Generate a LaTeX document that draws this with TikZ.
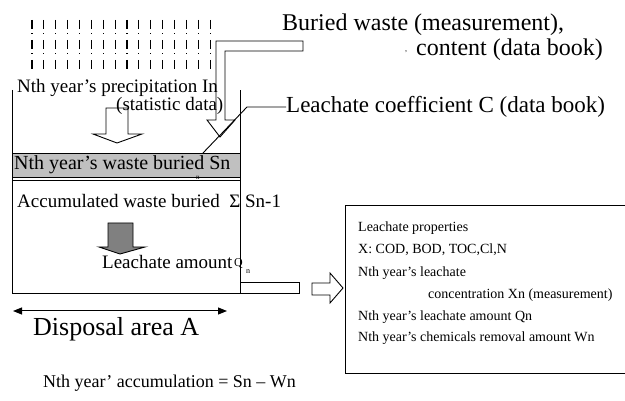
\documentclass[tikz,border=0pt]{standalone}
\usepackage{fontspec}
\setmainfont{Liberation Serif}
\usetikzlibrary{arrows.meta}
\definecolor{bandgray}{RGB}{192,192,192}
\definecolor{arrowgray}{RGB}{128,128,128}
\begin{document}
\begin{tikzpicture}[x=1pt,y=-1pt,
  txt/.style={inner sep=0pt,anchor=west,font=\fontsize{#1}{#1}\selectfont},
  ln/.style={line width=0.9pt},
  rain/.style={line width=1.1pt,dash pattern=on 9pt off 4.5pt on 0.8pt off 5.7pt},
  dim/.style={line width=1pt,{Triangle[length=9pt,width=7pt]}-{Triangle[length=9pt,width=7pt]}}]
\useasboundingbox (0,0) rectangle (625,401);
% rain
\foreach \i in {0,...,15}{
  \draw[rain] ({32+\i*11.87},20) -- ({32+\i*11.87},70);
}
% main box
\draw[ln] (12,90) -- (12,293) -- (240,293) -- (240,90);
% waste band
\filldraw[ln,fill=bandgray] (12,153) rectangle (240,177);
\draw[ln] (12,180) -- (240,180);
\node[txt=20] (band) at (14,165) {Nth year’s waste buried Sn};
\node[txt=7] (tinyn) at (196,178) {n};
% precipitation
\node[txt=19] (prec) at (17,88) {Nth year’s precipitation In};
\node[txt=19] (stat) at (116,106) {(statistic data)};
\draw[ln] (106,108) -- (128,108) -- (128,134) -- (142,134) -- (117,143) -- (93,134) -- (106,134) -- cycle;
% buried waste L-arrow
\node[txt=24] (buried) at (282,25) {Buried waste (measurement),};
\node[txt=24] (content) at (416,50) {content (data book)};
\node[txt=8] (comma) at (405,52) {,};
\draw[ln] (303,41) -- (216,41) -- (216,120) -- (207,120) -- (220,137) -- (235,120) -- (225,120) -- (225,51) -- (303,51) -- cycle;
% leachate coefficient
\node[txt=23] (coef) at (286,107) {Leachate coefficient C (data book)};
\coordinate (bend) at (247,107);
\coordinate (leadend) at (203,153);
\draw[ln] (coef.west) -- (bend) -- (leadend);
% accumulated
\node[txt=19] (accum) at (17,201) {Accumulated waste buried\ \ Σ Sn-1};
\filldraw[ln,fill=arrowgray] (108,223) -- (133,223) -- (133,247) -- (145,247) -- (120,254) -- (99,247) -- (108,247) -- cycle;
\node[txt=19] (amount) at (102,262) {Leachate amount};
\node[txt=12] (Q) at (234,264) {Q};
\node[txt=8] (qn) at (246,272) {n};
% outlet
\draw[ln] (240,282) -- (299,282) -- (299,293) -- (240,293);
\draw[ln] (312,283) -- (330,283) -- (330,273) -- (343,288) -- (330,303) -- (330,295) -- (312,295) -- cycle;
% right box
\draw[ln] (627,205) -- (345.5,205) -- (345.5,373) -- (627,373);
\node[txt=14] (p1) at (358,228) {Leachate properties};
\node[txt=14] (p2) at (358,250) {X: COD, BOD, TOC,Cl,N};
\node[txt=14] (p3) at (358,273) {Nth year’s leachate};
\node[txt=14] (p4) at (428,295) {concentration Xn (measurement)};
\node[txt=14] (p5) at (358,317) {Nth year’s leachate amount Qn};
\node[txt=14] (p6) at (358,338) {Nth year’s chemicals removal amount Wn};
% disposal area
\coordinate (dl) at (13,311);
\coordinate (dr) at (227,311);
\draw[dim] (dl) -- (dr);
\node[txt=26] (disp) at (33,329) {Disposal area A};
\node[txt=18] (accn) at (43,383) {Nth year’ accumulation = Sn – Wn};
\end{tikzpicture}
\end{document}
